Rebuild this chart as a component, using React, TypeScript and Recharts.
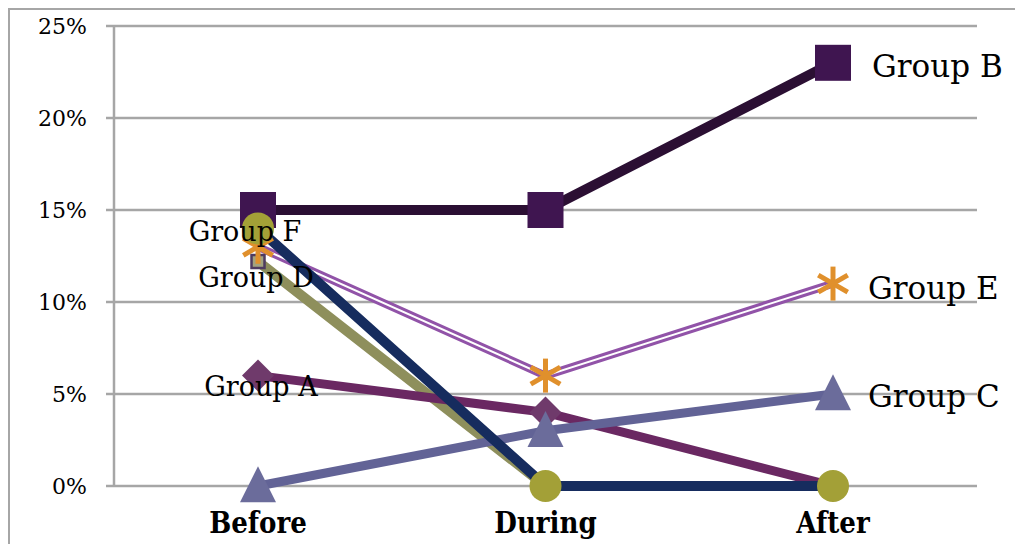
import { CartesianGrid, LabelList, Line, LineChart, XAxis, YAxis } from 'recharts'

const categories = ["Before", "During", "After"]
const groupA = [6, 4, 0]
const groupB = [15, 15, 23]
const groupC = [0, 3, 5]
const groupD = [12.2, 0, 0]
const groupE = [13, 6, 11]
const groupF = [14, 0, 0]
const yTicks = [0, 5, 10, 15, 20, 25]
const edgeTicks = [0, 1, 2, 3]

const data = categories.map((name, i) => ({
    name,
    A: groupA[i],
    B: groupB[i],
    C: groupC[i],
    D: groupD[i],
    E: groupE[i],
    F: groupF[i],
}))

const SERIF = "'DejaVu Serif', serif"
const GRID = "#A6A6A6"

const squareDot = (size: number, fill: string, stroke?: string) => (p: any) => (
    <rect key={`s-${p.index}`} x={p.cx - size / 2} y={p.cy - size / 2} width={size} height={size}
        fill={fill} stroke={stroke || "none"} strokeWidth={stroke ? 2.5 : 0} />
)
const circleDot = (r: number, fill: string) => (p: any) => (
    <circle key={`c-${p.index}`} cx={p.cx} cy={p.cy} r={r} fill={fill} />
)
const diamondDot = (r: number, fill: string) => (p: any) => (
    <polygon key={`d-${p.index}`} fill={fill}
        points={`${p.cx},${p.cy - r} ${p.cx + r},${p.cy} ${p.cx},${p.cy + r} ${p.cx - r},${p.cy}`} />
)
const triangleDot = (w: number, fill: string) => (p: any) => (
    <polygon key={`t-${p.index}`} fill={fill}
        points={`${p.cx},${p.cy - w * 0.55} ${p.cx + w / 2},${p.cy + w * 0.45} ${p.cx - w / 2},${p.cy + w * 0.45}`} />
)
const starDot = (r: number, color: string) => (p: any) => {
    const dx = r * Math.cos(Math.PI / 6)
    const dy = r * Math.sin(Math.PI / 6)
    return (
        <g key={`e-${p.index}`} stroke={color} strokeWidth={5}>
            <line x1={p.cx} y1={p.cy - r} x2={p.cx} y2={p.cy + r} />
            <line x1={p.cx - dx} y1={p.cy - dy} x2={p.cx + dx} y2={p.cy + dy} />
            <line x1={p.cx - dx} y1={p.cy + dy} x2={p.cx + dx} y2={p.cy - dy} />
        </g>
    )
}

// name label next to one point of a series
const groupLabel = (text: string, at: number, dx: number, dy: number, size: number, anchor: string) => (p: any) => {
    if (p.index !== at) return null
    return (
        <text x={p.x + dx} y={p.y + dy} fontSize={size} fontFamily={SERIF} fill="#000"
            textAnchor={anchor} dominantBaseline="central">{text}</text>
    )
}

const CategoryTick = (p: any) => (
    <text x={p.x} y={p.y} dy={47} textAnchor="middle" fontSize={29} fontWeight="bold"
        fontFamily="'DejaVu Serif Condensed', 'DejaVu Serif', serif" fill="#000">
        {p.payload.value}
    </text>
)

export default function App() {
    return (
        <div style={{ position: 'fixed', left: 0, top: 0, width: 1015, height: 544, overflow: 'hidden', background: '#fff' }}>
            <div style={{ position: 'absolute', left: 8, top: 8, width: 1030, height: 560, border: `2px solid ${GRID}` }} />
            <div style={{ position: 'absolute', left: 0, top: 0 }}>
                <LineChart width={1015} height={544} data={data} margin={{ top: 26, right: 38, left: 8, bottom: 8 }}>
                    <CartesianGrid vertical={false} stroke={GRID} strokeWidth={2.5} />
                    <XAxis xAxisId="edge" type="number" domain={[0, 3]} ticks={edgeTicks} height={0}
                        tick={false} tickSize={9} stroke={GRID} strokeWidth={2.5} allowDataOverflow />
                    <XAxis dataKey="name" height={50} axisLine={false} tickLine={false} tickSize={0}
                        tickMargin={0} padding={{ left: 144, right: 144 }} tick={<CategoryTick />} />
                    <YAxis domain={[0, 25]} ticks={yTicks} width={106} tickSize={8} tickMargin={19}
                        stroke={GRID} strokeWidth={2.5} tickFormatter={(v) => `${v}%`}
                        tick={{ fill: '#000', fontSize: 22, fontFamily: SERIF }} />

                    <Line dataKey="D" stroke="#8E8F5C" strokeWidth={10} isAnimationActive={false}
                        dot={squareDot(13, "#A3A37E", "#4E3B60")}>
                        <LabelList content={groupLabel("Group D", 0, -2, 16, 27, "middle")} />
                    </Line>
                    <Line dataKey="A" stroke="#6A2862" strokeWidth={9} isAnimationActive={false}
                        dot={diamondDot(16, "#6F3A6B")}>
                        <LabelList content={groupLabel("Group A", 0, 3, 11, 27, "middle")} />
                    </Line>
                    <Line dataKey="E" stroke="#9153A8" strokeWidth={8} isAnimationActive={false} dot={false} />
                    <Line dataKey="E" stroke="#fff" strokeWidth={2} isAnimationActive={false}
                        dot={starDot(17, "#E0902C")}>
                        <LabelList content={groupLabel("Group E", 2, 35, 4, 31, "start")} />
                    </Line>
                    <Line dataKey="C" stroke="#626396" strokeWidth={9} isAnimationActive={false}
                        dot={triangleDot(36, "#6B6C9B")}>
                        <LabelList content={groupLabel("Group C", 2, 35, 2, 31, "start")} />
                    </Line>
                    <Line dataKey="B" stroke="#2B0F33" strokeWidth={10} isAnimationActive={false}
                        dot={squareDot(36, "#3F1550")}>
                        <LabelList content={groupLabel("Group B", 2, 39, 3, 31, "start")} />
                    </Line>
                    <Line dataKey="F" stroke="#162C5E" strokeWidth={10} isAnimationActive={false}
                        dot={circleDot(16, "#A3A037")}>
                        <LabelList content={groupLabel("Group F", 0, -13, 3, 27, "middle")} />
                    </Line>
                </LineChart>
            </div>
        </div>
    )
}
